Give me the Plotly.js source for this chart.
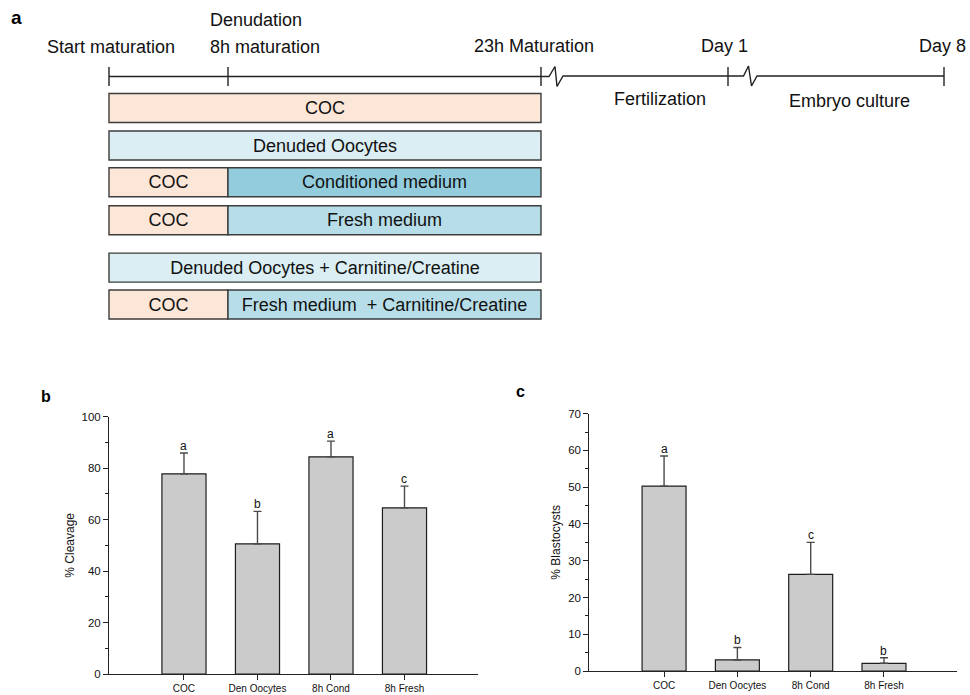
<!DOCTYPE html>
<html>
<head>
<meta charset="utf-8">
<script src="https://cdn.plot.ly/plotly-3.0.1.min.js"></script>
<style>html,body{margin:0;padding:0;background:#fff;}#chart{width:970px;height:695px;}</style>
</head>
<body>
<div id="chart"></div>
<script>
// ---------- data ----------
const categories = ['COC', 'Den Oocytes', '8h Cond', '8h Fresh'];
const cleavageMean = [77.8, 50.6, 84.4, 64.6];
const cleavageErr = [8.1, 12.6, 6.1, 8.4];
const cleavageLetters = ['a', 'b', 'a', 'c'];
const blastMean = [50.3, 3.0, 26.3, 2.1];
const blastErr = [8.2, 3.4, 8.7, 1.5];
const blastLetters = ['a', 'b', 'c', 'b'];

// schematic (panel a)
const timelineLabels = ['Start maturation', 'Denudation', '8h maturation', '23h Maturation', 'Day 1', 'Day 8'];
const phaseLabels = ['Fertilization', 'Embryo culture'];
const segLabels = ['COC', 'Denuded Oocytes', 'COC', 'Conditioned medium', 'COC', 'Fresh medium',
                   'Denuded Oocytes + Carnitine/Creatine', 'COC', 'Fresh medium  + Carnitine/Creatine'];
const segRow = [0, 1, 2, 2, 3, 3, 4, 5, 5];
const segFrom = [0, 0, 0, 1, 0, 1, 0, 0, 1];   // timeline point index
const segTo = [2, 2, 1, 2, 1, 2, 2, 1, 2];
const segKind = ['coc', 'do', 'coc', 'cond', 'coc', 'fresh', 'do', 'coc', 'fresh'];

// ---------- geometry / styles (schematic drawn on a pixel-scaled hidden axis) ----------
const W = 970, H = 695;
const FONT = 'Arial, "Liberation Sans", sans-serif';
const G = {
  tlX: [109, 228, 541, 728, 944],
  lineY: 76.5, tickTop: 67, tickBot: 86,
  rowY: [108, 145.5, 182.3, 220.2, 267.6, 304.5],
  rowH: 29,
  labelPos: [[111, 47, 'center'], [208, 20, 'left'], [208, 47, 'left'], [534, 46, 'center'], [724.5, 46, 'center'], [942, 46, 'center']],
  phasePos: [[659.5, 99], [849, 101]]
};
const kindColor = {coc: '#FCE6D8', do: '#DBEEF3', cond: '#93CDDD', fresh: '#B7DEE8'};
const TXT = '#111';

const traces = [];

// schematic boxes as horizontal bars
traces.push({
  type: 'bar', orientation: 'h', xaxis: 'x3', yaxis: 'y3',
  base: segFrom.map(i => G.tlX[i]),
  x: segFrom.map((f, k) => G.tlX[segTo[k]] - G.tlX[f]),
  y: segRow.map(r => G.rowY[r]),
  width: G.rowH,
  text: segLabels, textposition: 'inside', insidetextanchor: 'middle', textangle: 0,
  constraintext: 'none',
  textfont: {family: FONT, size: 18, color: TXT},
  marker: {color: segKind.map(k => kindColor[k]), line: {color: '#3c3c3c', width: 1.4}},
  hoverinfo: 'skip', cliponaxis: false
});

// timeline line with breaks
const t = G.tlX, ly = G.lineY;
const lineX = [t[0], t[2], t[2] + 8, t[2] + 14, t[2] + 16, t[2] + 22, t[3], t[3] + 15.5, t[3] + 20.5, t[3] + 23.5, t[3] + 29, t[4]];
const lineY = [ly, ly, ly, ly - 10, ly + 10, ly - 0.5, ly - 0.5, ly - 0.5, ly - 10.5, ly + 9.5, ly - 0.5, ly - 0.5];
traces.push({type: 'scatter', mode: 'lines', xaxis: 'x3', yaxis: 'y3', x: lineX, y: lineY,
  line: {color: '#222', width: 1.4}, hoverinfo: 'skip', cliponaxis: false});
const tkX = [], tkY = [];
G.tlX.forEach(v => { tkX.push(v, v, null); tkY.push(G.tickTop, G.tickBot, null); });
traces.push({type: 'scatter', mode: 'lines', xaxis: 'x3', yaxis: 'y3', x: tkX, y: tkY,
  line: {color: '#222', width: 1.4}, hoverinfo: 'skip', cliponaxis: false});

// bar charts
function barTrace(vals, errs, xa, ya) {
  return {
    type: 'bar', x: categories, y: vals, xaxis: xa, yaxis: ya, width: 0.6,
    marker: {color: '#CBCBCB', line: {color: '#1e1e1e', width: 1.2}},
    error_y: {type: 'data', symmetric: false, array: errs, arrayminus: errs.map(() => 0),
      color: '#4a4a4a', thickness: 1.4, width: 4},
    hoverinfo: 'skip'
  };
}
traces.push(barTrace(cleavageMean, cleavageErr, 'x', 'y'));
traces.push(barTrace(blastMean, blastErr, 'x2', 'y2'));

// annotations
const ann = [];
timelineLabels.forEach((s, i) => {
  const p = G.labelPos[i];
  ann.push({xref: 'x3', yref: 'y3', x: p[0], y: p[1], text: s, showarrow: false,
    xanchor: p[2], yanchor: 'middle', font: {family: FONT, size: 18, color: TXT}});
});
phaseLabels.forEach((s, i) => {
  const p = G.phasePos[i];
  ann.push({xref: 'x3', yref: 'y3', x: p[0], y: p[1], text: s, showarrow: false,
    xanchor: 'center', yanchor: 'middle', font: {family: FONT, size: 18, color: TXT}});
});
categories.forEach((c, i) => {
  ann.push({xref: 'x', yref: 'y', x: c, y: cleavageMean[i] + cleavageErr[i], text: cleavageLetters[i],
    showarrow: false, yanchor: 'bottom', yshift: -2, font: {family: FONT, size: 12, color: TXT}});
  ann.push({xref: 'x2', yref: 'y2', x: c, y: blastMean[i] + blastErr[i], text: blastLetters[i],
    showarrow: false, yanchor: 'bottom', yshift: -2, font: {family: FONT, size: 12, color: TXT}});
});
[['a', 16, 17, 19], ['b', 46, 396, 16], ['c', 520, 391, 16]].forEach(p => {
  ann.push({xref: 'paper', yref: 'paper', x: p[1] / W, y: 1 - p[2] / H, text: '<b>' + p[0] + '</b>',
    showarrow: false, xanchor: 'center', yanchor: 'middle', font: {family: FONT, size: p[3], color: '#000'}});
});

function xAx(d0, d1, anchor) {
  return {domain: [d0 / W, d1 / W], anchor: anchor, type: 'category', range: [-1.02, 4.0],
    showline: true, linecolor: '#222', linewidth: 1, ticks: 'outside', ticklen: 5, tickcolor: '#222',
    tickfont: {family: FONT, size: 10, color: TXT}, showgrid: false, zeroline: false, fixedrange: true};
}
function yAx(top, bot, anchor, max, dt, mdt, title) {
  return {domain: [1 - bot / H, 1 - top / H], anchor: anchor, range: [0, max], dtick: dt, tick0: 0,
    showline: true, linecolor: '#222', linewidth: 1, ticks: 'outside', ticklen: 5, tickcolor: '#222',
    minor: {dtick: mdt, tick0: 0, ticks: 'outside', ticklen: 3, tickcolor: '#222', showgrid: false},
    tickfont: {family: FONT, size: 11.5, color: TXT}, showgrid: false, zeroline: false, fixedrange: true,
    title: {text: title, font: {family: FONT, size: 12, color: TXT}, standoff: 4}};
}

const layout = {
  width: W, height: H, margin: {l: 0, r: 0, t: 0, b: 0, pad: 0},
  paper_bgcolor: '#fff', plot_bgcolor: 'rgba(0,0,0,0)', showlegend: false,
  font: {family: FONT, color: TXT},
  bargap: 0,
  xaxis: xAx(109, 478, 'y'),
  yaxis: yAx(416.7, 674, 'x', 100, 20, 10, '% Cleavage'),
  xaxis2: xAx(589.3, 957.3, 'y2'),
  yaxis2: yAx(413.7, 671, 'x2', 70, 10, 5, '% Blastocysts'),
  xaxis3: {domain: [0, 1], range: [0, W], visible: false, anchor: 'y3', fixedrange: true},
  yaxis3: {domain: [0, 1], range: [H, 0], visible: false, anchor: 'x3', fixedrange: true},
  annotations: ann
};

Plotly.newPlot('chart', traces, layout, {staticPlot: true, displayModeBar: false});
</script>
</body>
</html>
